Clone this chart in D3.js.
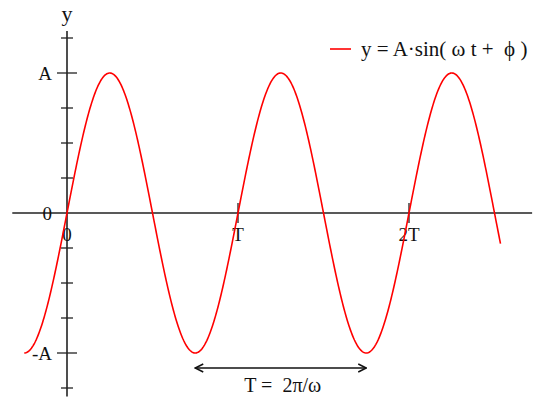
<!DOCTYPE html>
<html>
<head>
<meta charset="utf-8">
<script src="https://cdn.jsdelivr.net/npm/d3@7"></script>
<style>
  body { margin: 0; background: #fff; }
  svg { display: block; }
  text { font-family: "Liberation Serif", "Times New Roman", serif; fill: #111; }
</style>
</head>
<body>
<div id="chart"></div>
<script>
// wave parameters (in units of the period T and amplitude A)
var amplitude = [1];
var period = [1];
var tSpan = [-0.25, 2.535];

// axis ranges and ticks
var xDomain = [-0.32, 2.72];
var yDomain = [-1.31, 1.3];
var yTicks = [-1.25, -1, -0.75, -0.5, -0.25, 0.25, 0.5, 0.75, 1, 1.25];
var yLabels = [{v: 1, text: 'A'}, {v: 0, text: '0'}, {v: -1, text: '-A'}];
var xTicks = [1, 2];
var xLabels = [{v: 0, text: '0'}, {v: 1, text: 'T'}, {v: 2, text: '2T'}];
var periodSpan = [0.75, 1.75];

var width = 547, height = 397;

var svg = d3.select('#chart').append('svg')
    .attr('width', width)
    .attr('height', height);

var x = d3.scaleLinear().domain([0, 2]).range([67, 409]),
    y = d3.scaleLinear().domain([-1, 1]).range([353, 73]);

var axisColor = '#222';

// x axis
svg.append('line')
    .attr('x1', x(xDomain[0])).attr('x2', x(xDomain[1]))
    .attr('y1', y(0)).attr('y2', y(0))
    .attr('stroke', axisColor).attr('stroke-width', 1.6);

// y axis
svg.append('line')
    .attr('x1', x(0)).attr('x2', x(0))
    .attr('y1', y(yDomain[1])).attr('y2', y(yDomain[0]))
    .attr('stroke', axisColor).attr('stroke-width', 1.6);

svg.selectAll('.ytick')
    .data(yTicks)
    .enter()
    .append('line')
    .attr('class', 'ytick')
    .attr('x1', function(d) { return x(0) - (Math.abs(d) === 1 ? 10 : 6); })
    .attr('x2', function(d) { return x(0) + (Math.abs(d) === 1 ? 10 : 6); })
    .attr('y1', function(d) { return y(d); })
    .attr('y2', function(d) { return y(d); })
    .attr('stroke', axisColor).attr('stroke-width', 1.3);

svg.selectAll('.xtick')
    .data(xTicks)
    .enter()
    .append('line')
    .attr('class', 'xtick')
    .attr('x1', function(d) { return x(d); })
    .attr('x2', function(d) { return x(d); })
    .attr('y1', y(0) - 10)
    .attr('y2', y(0) + 10)
    .attr('stroke', axisColor).attr('stroke-width', 1.3);

svg.selectAll('.ylabel')
    .data(yLabels)
    .enter()
    .append('text')
    .attr('class', 'ylabel')
    .attr('x', x(0) - 15)
    .attr('y', function(d) { return y(d.v); })
    .attr('dy', '0.35em')
    .style('text-anchor', 'end')
    .style('font-size', '19px')
    .text(function(d) { return d.text; });

svg.selectAll('.xlabel')
    .data(xLabels)
    .enter()
    .append('text')
    .attr('class', 'xlabel')
    .attr('x', function(d) { return x(d.v); })
    .attr('y', y(0) + 28)
    .style('text-anchor', 'middle')
    .style('font-size', '19px')
    .text(function(d) { return d.text; });

svg.append('text')
    .attr('x', x(0))
    .attr('y', 21)
    .style('text-anchor', 'middle')
    .style('font-size', '22px')
    .text('y');

// the wave
var pts = d3.range(0, 601).map(function(i) {
    var t = tSpan[0] + (tSpan[1] - tSpan[0]) * i / 600;
    return [t, amplitude[0] * Math.sin(2 * Math.PI * t / period[0])];
});

svg.append('path')
    .datum(pts)
    .attr('fill', 'none')
    .attr('stroke', '#f00')
    .attr('stroke-width', 1.6)
    .attr('d', d3.line()
        .x(function(d) { return x(d[0]); })
        .y(function(d) { return y(d[1]); }));

// period marker
var defs = svg.append('defs');
defs.append('marker')
    .attr('id', 'chev')
    .attr('viewBox', '0 0 10 10')
    .attr('refX', 9).attr('refY', 5)
    .attr('markerWidth', 10).attr('markerHeight', 10)
    .attr('markerUnits', 'userSpaceOnUse')
    .attr('orient', 'auto-start-reverse')
    .append('path')
    .attr('d', 'M1,1 L9,5 L1,9')
    .attr('fill', 'none')
    .attr('stroke', '#111')
    .attr('stroke-width', 1.5);

var ay = 368;
svg.append('line')
    .attr('x1', x(periodSpan[0])).attr('x2', x(periodSpan[1]))
    .attr('y1', ay).attr('y2', ay)
    .attr('stroke', '#111').attr('stroke-width', 1.5)
    .attr('marker-start', 'url(#chev)')
    .attr('marker-end', 'url(#chev)');

svg.append('text')
    .attr('x', (x(periodSpan[0]) + x(periodSpan[1])) / 2 + 2)
    .attr('y', 392)
    .style('text-anchor', 'middle')
    .style('font-size', '20px')
    .style('white-space', 'pre')
    .text('T =  2\u03c0/\u03c9');

// legend
svg.append('line')
    .attr('x1', 330).attr('x2', 351)
    .attr('y1', 49).attr('y2', 49)
    .attr('stroke', '#f00').attr('stroke-width', 1.6);

svg.append('text')
    .attr('x', 361)
    .attr('y', 56)
    .style('font-size', '21px')
    .style('white-space', 'pre')
    .text('y = A\u00b7sin( \u03c9 t +  \u03d5 )');
</script>
</body>
</html>
